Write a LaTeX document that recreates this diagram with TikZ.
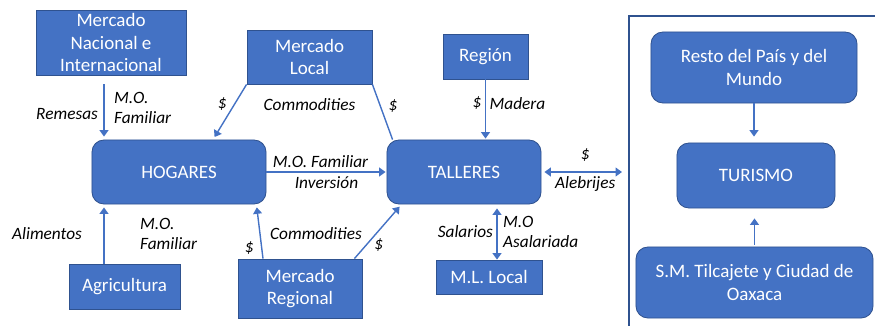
\documentclass[tikz,border=0pt]{standalone}
\usepackage{fontspec}
\setmainfont{Carlito}
\usetikzlibrary{arrows.meta, positioning}

\definecolor{boxblue}{HTML}{4472C4}
\definecolor{edgeblue}{HTML}{2F528F}

\begin{document}
\begin{tikzpicture}[
    x=0.025cm, y=-0.025cm,
    box/.style={draw=edgeblue, fill=boxblue, text=white, align=center, inner sep=0pt, line width=0.6pt,
        font=\fontsize{13.5}{16}\selectfont},
    rbox/.style={box, rounded corners=0.3cm},
    lbl/.style={text=black, font=\fontsize{12.3}{14.2}\selectfont\itshape, align=left, inner sep=1pt},
    flow/.style={-{Triangle[length=1.6mm, width=2.2mm]}, boxblue, line width=1pt},
    both/.style={{Triangle[length=1.6mm, width=2.2mm]}-{Triangle[length=1.6mm, width=2.2mm]}, boxblue, line width=1pt},
    link/.style={boxblue, line width=1pt}
]
\useasboundingbox (0,0) rectangle (875,325);

% Marco del turismo
\coordinate (frame) at (629,16);
\draw[edgeblue, line width=0.9pt] (629,330) -- (frame) -- (880,16);

% Cajas
\node[box, minimum width=3.75cm, minimum height=1.625cm] (mni) at (111,42.5) {Mercado\\Nacional e\\Internacional};
\node[box, minimum width=3.125cm, minimum height=1.35cm] (ml) at (309.5,57) {Mercado\\Local};
\node[box, minimum width=2.125cm, minimum height=1.125cm] (reg) at (485.5,56.5) {Región};
\node[rbox, minimum width=4.35cm, minimum height=1.6cm] (hog) at (179,172) {HOGARES};
\node[rbox, minimum width=3.85cm, minimum height=1.6cm] (tal) at (464,172) {TALLERES};
\node[box, minimum width=2.775cm, minimum height=1.125cm] (agr) at (124.5,286.5) {Agricultura};
\node[box, minimum width=3.1cm, minimum height=1.475cm] (mr) at (300,288.5) {Mercado\\Regional};
\node[box, minimum width=2.65cm, minimum height=0.85cm] (mll) at (489,277) {M.L. Local};
\node[rbox, minimum width=5.15cm, minimum height=1.775cm] (res) at (754,67.5) {Resto del País y del\\Mundo};
\node[rbox, minimum width=3.95cm, minimum height=1.625cm] (tur) at (756,175.5) {TURISMO};
\node[rbox, minimum width=5.925cm, minimum height=1.775cm] (sm) at (754.5,282.5) {S.M. Tilcajete y Ciudad de\\Oaxaca};

% Hacia los hogares
\coordinate (remesas) at ([xshift=-0.175cm]mni.south);
\draw[flow, shorten <=0.225cm, shorten >=0.075cm] (remesas) -- (remesas |- hog.north)
    node[lbl, pos=0.6, left=0.1cm] {Remesas}
    node[lbl, midway, right=0.2cm] {M.O.\\Familiar};
\coordinate (alim) at ([xshift=-0.5125cm]agr.north);
\draw[flow, shorten >=0.075cm] (alim) -- (alim |- hog.south)
    node[lbl, midway, left=0.5cm] {Alimentos}
    node[lbl, midway, right=0.85cm] {M.O.\\Familiar};
\draw[flow, shorten >=0.075cm] (ml.south west) -- ([xshift=0.85cm]hog.north)
    node[lbl, pos=0.35, left=0.15cm] {\$};
\node[lbl, below=0.3cm of ml.south] (comm1) {Commodities};
\draw[flow, shorten >=0.075cm] ([xshift=-0.925cm]mr.north) -- ([xshift=-0.25cm]hog.south east)
    node[lbl, pos=0.2, left=0.15cm] {\$};
\node[lbl] (comm2) at (316,234) {Commodities};

% Hacia los talleres
\draw[flow, shorten >=0.025cm] (hog.east) -- (tal.west)
    node[lbl, midway, above=0.05cm, xshift=-0.15cm] {M.O. Familiar}
    node[lbl, midway, below=0.05cm] {Inversión};
\draw[link] (ml.south east) -- ([xshift=0.15cm]tal.north west)
    node[lbl, pos=0.4, right=0.15cm] {\$};
\draw[flow, shorten >=0.075cm] ([xshift=-0.2cm]mr.north east) -- ([xshift=0.375cm]tal.south west)
    node[lbl, pos=0.25, right=0.15cm] {\$};
\draw[flow, shorten >=0.025cm] (reg.south) -- (reg.south |- tal.north)
    node[lbl, pos=0.4, left=0.05cm] {\$}
    node[lbl, pos=0.4, right=0.05cm] {Madera};
\coordinate (sal) at ([xshift=0.825cm]tal.south);
\draw[both, shorten <=0.1cm] (sal) -- (sal |- mll.north)
    node[lbl, midway, left=0.05cm] {Salarios}
    node[lbl, midway, right=0.1cm] {M.O\\Asalariada};
\draw[both, shorten <=0.075cm, shorten >=0.175cm] (tal.east) -- (tal.east -| frame)
    node[lbl, midway, above=0.2cm] {\$}
    node[lbl, midway, below=0.05cm] {Alebrijes};

% Turismo
\draw[flow, shorten >=0.15cm] (res.south) -- (res.south |- tur.north);
\draw[flow, shorten <=0.05cm, shorten >=0.25cm] (sm.north) -- (sm.north |- tur.south);

\end{tikzpicture}
\end{document}
